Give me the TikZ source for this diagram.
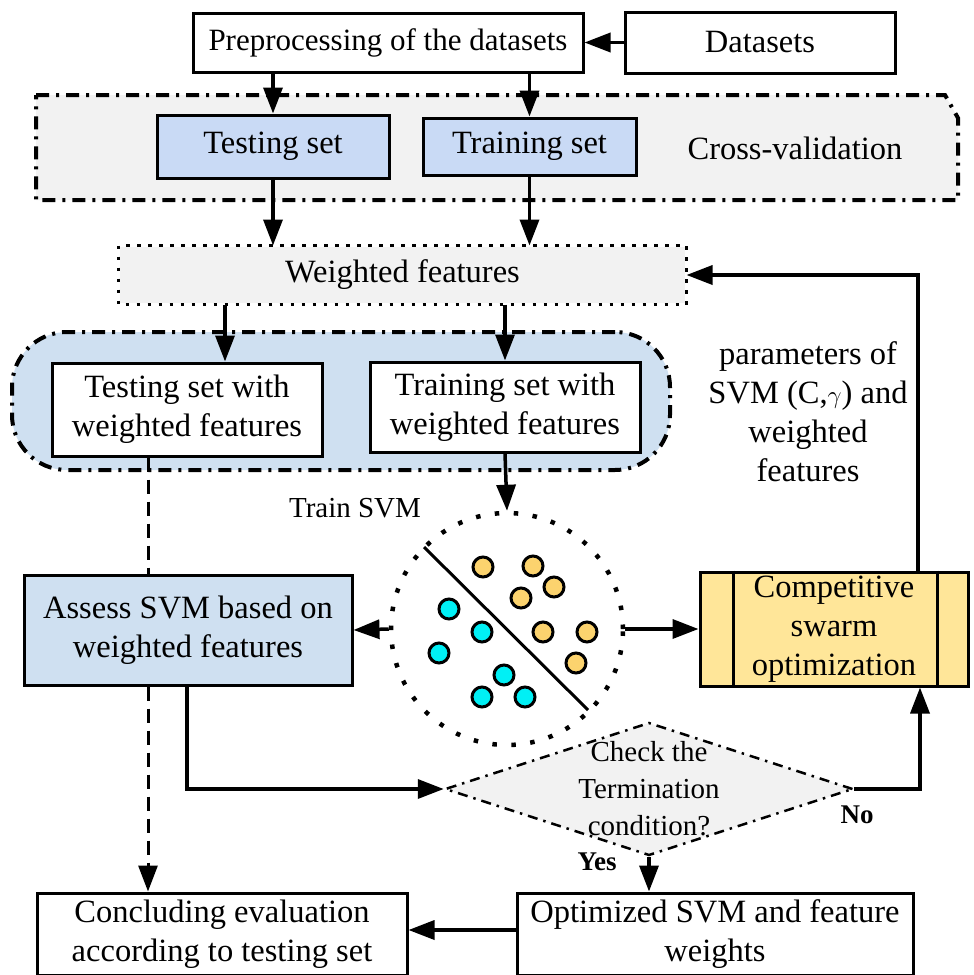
\documentclass[tikz,border=0pt]{standalone}
\usepackage{fontspec}
\setmainfont{Liberation Serif}
\usepackage{tikz}
\usetikzlibrary{positioning, shapes.geometric, arrows.meta, fit}
\definecolor{boxblue}{HTML}{C9DAF5}
\definecolor{regionblue}{HTML}{CFE0F1}
\definecolor{lightgray}{HTML}{F2F2F2}
\definecolor{csoyellow}{HTML}{FFE699}
\definecolor{dotyellow}{HTML}{FCD36E}
\definecolor{dotcyan}{HTML}{00F0F5}
\tikzstyle{process} = [rectangle, draw=black, line width=3pt, inner sep=0pt, align=center, fill=white, font=\fontsize{32.5}{39}\selectfont]
\tikzstyle{arrow} = [line width=3.5pt, -{Triangle[length=26pt,width=19pt]}]

\begin{document}
\begin{tikzpicture}[x=1pt, y=-1pt]

    % Styles
    \tikzstyle{dashline} = [line width=3pt, dash pattern=on 14pt off 8pt]
    \tikzstyle{dasharrow} = [dashline, -{Triangle[length=26pt,width=19pt]}]
    \tikzstyle{dot} = [draw=black, line width=3pt]
    \tikzstyle{dashdot} = [line width=4pt, dash pattern=on 13pt off 7pt on 3pt off 7pt]

    \useasboundingbox (0,0) rectangle (974,975);

    % Cross-validation region
    \draw[dashdot, fill=lightgray] (36,95) -- (945,95) -- (958,118) -- (958,200) -- (36,200) -- cycle;

    % Weighted region
    \node (region) [rectangle, rounded corners=55pt, draw=black, dashdot, fill=regionblue,
        minimum width=658pt, minimum height=138pt] at (341,401) {};

    % Nodes
    \node (prep) [process, font=\fontsize{31}{39}\selectfont, minimum width=390pt, minimum height=59pt] at (388,42.5) {Preprocessing of the datasets};
    \node (data) [process, minimum width=270pt, minimum height=61pt] at (760,42.5) {Datasets};
    \node (test) [process, fill=boxblue, minimum width=232pt, minimum height=63pt] at (273,146.5) {Testing set};
    \node (train) [process, fill=boxblue, minimum width=213pt, minimum height=57pt] at (529.5,146.5) {Training set};
    \node (cvlabel) [font=\fontsize{32.5}{39}\selectfont] at (795,148) {Cross-validation};
    \node (wf) [process, draw=none, fill=lightgray, minimum width=565pt, minimum height=56pt] at (402.5,275) {Weighted features};
    \draw[line width=3.5pt, dash pattern=on 3.5pt off 7.5pt] (wf.north west) rectangle (wf.south east);
    \node (testw) [process, minimum width=270pt, minimum height=93pt] at (187,409.5) {Testing set with\\weighted features};
    \node (trainw) [process, minimum width=270pt, minimum height=90pt] at (505,407) {Training set with\\weighted features};
    \node (trainlbl) [font=\fontsize{29}{32}\selectfont] at (355,508) {Train SVM};
    \node (circ) [circle, draw=black, line width=4.5pt, dash pattern=on 4.5pt off 14.5pt, minimum size=232pt] at (507,629) {};
    \node (assess) [process, fill=regionblue, minimum width=328pt, minimum height=110pt] at (188,630) {Assess SVM based on\\weighted features};
    \node (cso) [process, fill=csoyellow, minimum width=268pt, minimum height=114pt] at (834,629) {Competitive\\swarm\\optimization};
    \draw[line width=3pt] ([xshift=35pt]cso.north west) -- ([xshift=35pt]cso.south west);
    \draw[line width=3pt] ([xshift=-32pt]cso.north east) -- ([xshift=-32pt]cso.south east);
    \node (param) [align=center, font=\fontsize{32.5}{39}\selectfont] at (808,412) {parameters of\\SVM (C,$\gamma$) and\\weighted\\features};
    \node (dia) [diamond, draw=black, fill=lightgray, line width=2.5pt, dash pattern=on 10pt off 6pt on 2.5pt off 6pt,
        inner sep=0pt, minimum width=408pt, minimum height=133pt] at (649,789) {};
    \node (diatext) [align=center, font=\fontsize{29}{37}\selectfont] at (dia.center) {Check the\\Termination\\condition?};
    \node (no) [font=\bfseries\fontsize{27}{30}\selectfont] at (857,815) {No};
    \node (yes) [font=\bfseries\fontsize{27}{30}\selectfont] at (597,862) {Yes};
    \node (opt) [process, minimum width=396pt, minimum height=82pt] at (715,934) {Optimized SVM and feature\\weights};
    \node (concl) [process, minimum width=370pt, minimum height=82pt] at (222,934) {Concluding evaluation\\according to testing set};

    % SVM separator and samples
    \draw[line width=3pt] ([shift={(-83,-82)}]circ.center) -- ([shift={(81,81)}]circ.center);
    \foreach \p in {(483,567),(533,566),(554,587),(521,598),(543,632),(587,632),(576,663)}
        \draw[dot, fill=dotyellow] \p circle (10pt);
    \foreach \p in {(449,609),(482,632),(439,653),(504,675),(482,697),(525,697)}
        \draw[dot, fill=dotcyan] \p circle (10pt);

    % Arrows
    \draw [arrow] (data) -- (prep);
    \draw [arrow] (test.north |- prep.south) -- (test.north);
    \draw [arrow] (train.north |- prep.south) -- (train.north);
    \draw [arrow] (test.south) -- (test.south |- wf.north);
    \draw [arrow] (train.south) -- (train.south |- wf.north);
    \draw [arrow] ([xshift=38pt]testw.north |- wf.south) -- ([xshift=38pt]testw.north);
    \draw [arrow] (trainw.north |- wf.south) -- (trainw.north);
    \draw [arrow] (trainw.south) -- (circ.north);
    \draw [arrow] (circ.west) -- (assess.east);
    \draw [arrow] (circ.east) -- (cso.west);
    \draw [arrow] ([xshift=84pt]cso.north) |- (wf.east);
    \draw [arrow] ([xshift=-1pt]assess.south) |- (dia.west);
    \draw [arrow] (dia.east) -| ([xshift=86pt]cso.south);
    \draw [arrow] (dia.south) -- (dia.south |- opt.north);
    \draw [arrow] (opt.west |- 0,930) -- (concl.east |- 0,930);
    \draw [dashline] ([xshift=-39pt]testw.south) -- ([xshift=-39pt]testw.south |- assess.north);
    \draw [dasharrow] ([xshift=-40pt]assess.south) -- ([xshift=-40pt]assess.south |- concl.north);

\end{tikzpicture}
\end{document}
